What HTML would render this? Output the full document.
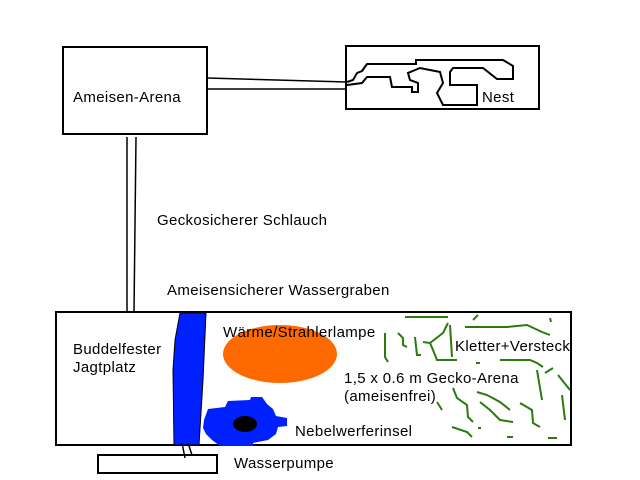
<!DOCTYPE html>
<html><head><meta charset="utf-8"><style>
html,body{margin:0;padding:0;background:#fff;}
svg{display:block;}
text{font-family:"Liberation Sans",Arial,sans-serif;font-size:15px;letter-spacing:0.35px;fill:#000;}
</style></head><body>
<svg width="640" height="480" viewBox="0 0 640 480" xmlns="http://www.w3.org/2000/svg">
<rect x="0" y="0" width="640" height="480" fill="#fff"/>
<rect x="63" y="47" width="144" height="87" fill="none" stroke="#000" stroke-width="2"/>
<text x="73" y="102">Ameisen-Arena</text>
<rect x="346" y="46" width="193" height="63" fill="none" stroke="#000" stroke-width="2"/>
<text x="482" y="102">Nest</text>
<path d="M347,82 L353,80 L357,73 L362,71 L367,64 L416,64 L416,60 L503,60 L513,66 L513,79 L497,79 L483,68 L453,68 L450,72 L450,85 L477,85 L477,105 L443,105 L437,93 L443,83 L440,72 L420,68 L408,73 L410,80 L418,83 L418,92 L412,92 L412,87 L392,87 L390,77 L367,77 L362,83 L347,85" fill="none" stroke="#000" stroke-width="2"/>
<line x1="207" y1="78" x2="347" y2="82" stroke="#000" stroke-width="1.5"/>
<line x1="207" y1="89" x2="347" y2="89" stroke="#000" stroke-width="1.5"/>
<line x1="127" y1="137" x2="127" y2="312" stroke="#000" stroke-width="1.5"/>
<line x1="136" y1="137" x2="134" y2="312" stroke="#000" stroke-width="1.5"/>
<text x="157" y="225">Geckosicherer Schlauch</text>
<text x="167" y="295">Ameisensicherer Wassergraben</text>
<rect x="56" y="312" width="515" height="133" fill="none" stroke="#000" stroke-width="2"/>
<text x="73" y="354">Buddelfester</text>
<text x="73" y="372">Jagtplatz</text>
<path d="M180,313 L206,313 L203,380 L199,445 L174,445 L173,370 L175,340 Z" fill="#0020ff" stroke="#000" stroke-width="1"/>
<rect x="98" y="455" width="119" height="18" fill="none" stroke="#000" stroke-width="2"/>
<line x1="182" y1="443" x2="185" y2="458" stroke="#000" stroke-width="1.5"/>
<line x1="188" y1="443" x2="192" y2="455" stroke="#000" stroke-width="1.5"/>
<text x="234" y="468">Wasserpumpe</text>
<ellipse cx="280" cy="354" rx="57" ry="29" fill="#ff6a00"/>
<text x="223" y="337">Wärme/Strahlerlampe</text>
<path d="M208,409 L225,407 L228,401 L250,400 L251,397 L262,397 L267,404 L273,409 L276,416 L287,418 L287,426 L278,427 L276,434 L268,440 L253,443 L253,446 L220,446 L212,440 L206,434 L203,428 L204,420 Z" fill="#0020ff"/>
<ellipse cx="245" cy="424" rx="12" ry="8" fill="#000"/>
<text x="295" y="436">Nebelwerferinsel</text>
<g fill="none" stroke="#2a7a10" stroke-width="2">
<path d="M405,317 L448,317"/>
<path d="M385,333 L385,357 L388,362"/>
<path d="M398,333 L403,338 L403,345 L407,347"/>
<path d="M415,337 L417,355 L421,355"/>
<path d="M423,342 L430,343 L433,350 L437,360 L457,360"/>
<path d="M430,343 L443,333 L448,323"/>
<path d="M450,325 L452,357"/>
<path d="M465,327 L507,327 L527,325 L542,332 L550,335"/>
<path d="M473,320 L478,315"/>
<path d="M550,318 L551,322"/>
<path d="M476,363 L480,363"/>
<path d="M500,360 L530,360 L537,363 L543,367"/>
<path d="M537,370 L542,400"/>
<path d="M545,373 L553,368"/>
<path d="M558,375 L570,390"/>
<path d="M562,395 L565,420"/>
<path d="M437,402 L442,410"/>
<path d="M453,388 L457,398 L467,405 L468,417 L473,422"/>
<path d="M477,392 L487,395 L500,402 L510,410"/>
<path d="M480,402 L490,410 L500,420 L513,422"/>
<path d="M520,403 L532,410 L533,423 L540,427"/>
<path d="M452,427 L467,432 L472,437"/>
<path d="M478,428 L481,428"/>
<path d="M507,437 L513,437"/>
<path d="M548,438 L557,438"/>
</g>
<text x="455" y="351">Kletter+Versteck</text>
<text x="344" y="383">1,5 x 0.6 m Gecko-Arena</text>
<text x="344" y="401">(ameisenfrei)</text>
</svg>
</body></html>
